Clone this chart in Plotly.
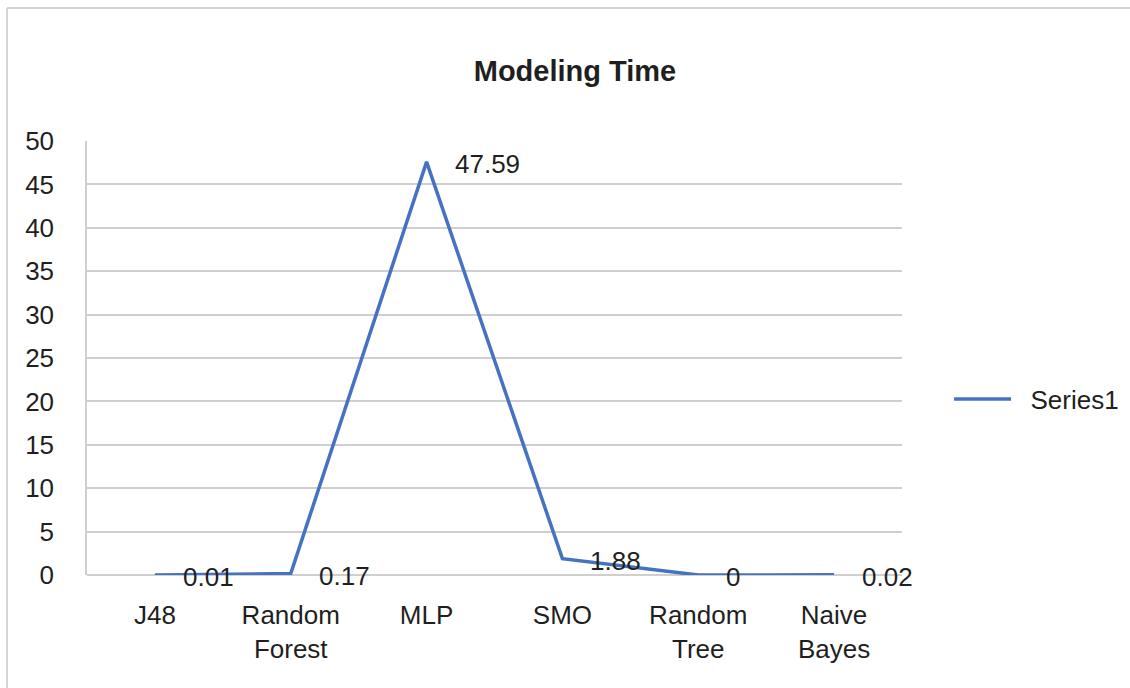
import plotly.graph_objects as go

categories = ["J48", "Random<br>Forest", "MLP", "SMO", "Random<br>Tree", "Naive<br>Bayes"]
values = [0.01, 0.17, 47.59, 1.88, 0, 0.02]
labels = ["0.01", "0.17", "47.59", "1.88", "0", "0.02"]
y_ticks = [0, 5, 10, 15, 20, 25, 30, 35, 40, 45, 50]
series_name = "Series1"
title = "Modeling Time"

W, H = 1130, 688
L, R, T, B = 87, 228, 141, 113
FONT = "Liberation Sans, Arial, Helvetica, sans-serif"
TXT = "#1f1f1f"

fig = go.Figure()
fig.add_trace(go.Scatter(
    x=list(range(len(categories))), y=values, mode="lines",
    name="\u00a0\u00a0" + series_name,
    line=dict(color="#4573c1", width=3.5), cliponaxis=False,
))

for i, (v, t) in enumerate(zip(values, labels)):
    fig.add_annotation(x=i, y=v, xref="x", yref="y", text=t, showarrow=False,
                       xanchor="left", yanchor="middle", xshift=26, yshift=-2,
                       font=dict(family=FONT, size=26, color=TXT))

# frame (left and top edges)
fig.add_shape(type="line", xref="paper", yref="paper",
              x0=(7 - L) / (W - L - R), x1=(W - L) / (W - L - R),
              y0=(H - B - 8) / (H - T - B), y1=(H - B - 8) / (H - T - B),
              line=dict(color="#d4d4d4", width=2))
fig.add_shape(type="line", xref="paper", yref="paper",
              x0=(7 - L) / (W - L - R), x1=(7 - L) / (W - L - R),
              y0=(H - B - 8) / (H - T - B), y1=-B / (H - T - B),
              line=dict(color="#d4d4d4", width=2))

fig.update_layout(
    width=W, height=H,
    margin=dict(l=L, r=R, t=T, b=B, pad=0, autoexpand=False),
    paper_bgcolor="white", plot_bgcolor="white",
    title=dict(text="<b>" + title + "</b>", x=575 / W, xanchor="center",
               y=1 - 71 / H, yanchor="middle",
               font=dict(family=FONT, size=29, color=TXT)),
    showlegend=True,
    legend=dict(x=(949 - L) / (W - L - R), xanchor="left",
                y=(H - B - 399) / (H - T - B), yanchor="middle",
                font=dict(family=FONT, size=26, color=TXT),
                itemwidth=57, bgcolor="rgba(0,0,0,0)"),
    xaxis=dict(tickmode="array", tickvals=list(range(len(categories))), ticktext=categories,
               range=[-0.5, len(categories) - 0.5], showgrid=False, zeroline=False,
               showline=False, ticks="", ticklabelstandoff=22,
               tickfont=dict(family=FONT, size=26, color=TXT)),
    yaxis=dict(tickmode="array", tickvals=y_ticks, range=[0, 50],
               showgrid=True, gridcolor="#cfcfcf", gridwidth=1.5,
               zeroline=True, zerolinecolor="#cfcfcf", zerolinewidth=1.5,
               showline=True, linecolor="#cfcfcf", linewidth=1.5,
               ticks="", ticklabelstandoff=26,
               tickfont=dict(family=FONT, size=26, color=TXT)),
)

fig.write_html("out.html")
